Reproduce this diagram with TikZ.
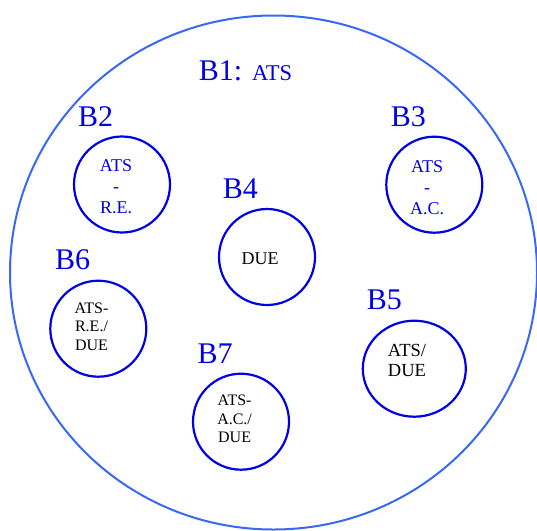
\documentclass[tikz,border=0pt]{standalone}
\usepackage{fontspec}
\setmainfont{Liberation Serif}
\usetikzlibrary{shapes.geometric}
\definecolor{outerblue}{RGB}{55,105,245}
\definecolor{innerblue}{RGB}{0,0,230}
\begin{document}
\begin{tikzpicture}[x=1pt,y=-1pt,
  bubble/.style={draw=innerblue,line width=2.2pt,circle,minimum size=96pt,inner sep=0pt},
  lbl/.style={text=innerblue,font=\fontsize{30}{30}\selectfont,anchor=base west,inner sep=0pt},
  txt/.style={align=center,anchor=base,inner sep=0pt,font=\fontsize{18}{21}\selectfont},
  smalltxt/.style={align=center,anchor=base,inner sep=0pt,font=\fontsize{16}{18.5}\selectfont}]
\useasboundingbox (0,0) rectangle (537,530);
% outer region B1
\node[draw=outerblue,line width=2pt,ellipse,minimum width=527pt,minimum height=514pt,inner sep=0pt] (c1) at (273.5,272.5) {};
% inner regions
\node[bubble] (c2) at (122,184.5) {};
\node[bubble] (c3) at (434.3,184.7) {};
\node[bubble] (c4) at (267,257) {};
\node[draw=innerblue,line width=2.2pt,ellipse,minimum width=103pt,minimum height=96pt,inner sep=0pt] (c5) at (414.3,368.7) {};
\node[bubble] (c6) at (98.3,328.7) {};
\node[bubble] (c7) at (241,421.7) {};
% labels
\node[lbl] (l1) at (198.6,80.5) {B1: {\fontsize{22.5}{22.5}\selectfont ATS}};
\node[lbl] (l2) at (78,126) {B2};
\node[lbl] (l3) at (390.7,126) {B3};
\node[lbl] (l4) at (222.7,198.3) {B4};
\node[lbl] (l5) at (366.7,309.3) {B5};
\node[lbl] (l6) at (55,269.3) {B6};
\node[lbl] (l7) at (197.3,363) {B7};
% contents (base anchor = baseline of last line)
\node[txt,text=innerblue] (t2) at (116,213) {ATS\\-\\R.E.};
\node[txt,text=innerblue] (t3) at (427,214) {ATS\\-\\A.C.};
\node[txt] (t4) at (260,264) {DUE};
\node[txt,font=\fontsize{18.5}{19.3}\selectfont] (t5) at (407,376) {ATS/\\DUE};
\node[smalltxt] (t6) at (91.5,350) {ATS-\\R.E./\\DUE};
\node[smalltxt,font=\fontsize{16}{18.2}\selectfont] (t7) at (234.6,442.3) {ATS-\\A.C./\\DUE};
\end{tikzpicture}
\end{document}
